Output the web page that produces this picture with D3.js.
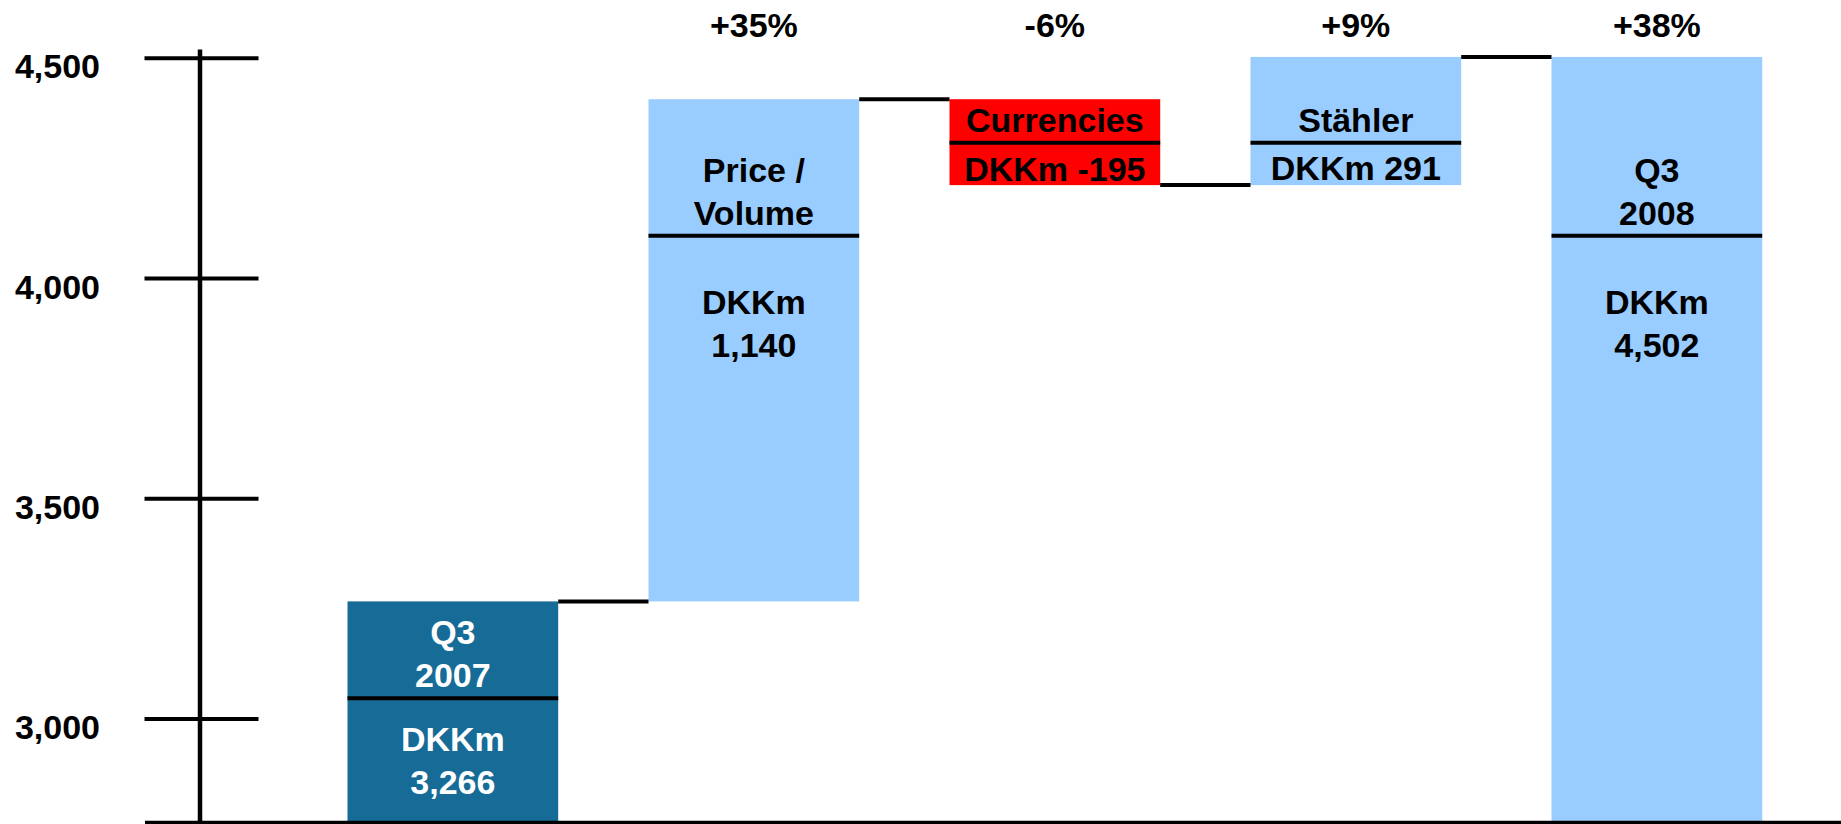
<!DOCTYPE html>
<html>
<head>
<meta charset="utf-8">
<script src="https://cdn.jsdelivr.net/npm/d3@7"></script>
<style>
  html, body { margin: 0; padding: 0; background: #ffffff; }
  svg { display: block; }
  text { font-family: "Liberation Sans", Arial, sans-serif; font-weight: bold; }
</style>
</head>
<body>
<svg id="chart" width="1841" height="824"></svg>
<script>
// ---- data ----
const categories = ["Q3 2007", "Price / Volume", "Currencies", "Stähler", "Q3 2008"];
const values = [3266, 1140, -195, 291, 4502];
const kinds = ["total", "delta", "delta", "delta", "total"];
const pctLabels = ["", "+35%", "-6%", "+9%", "+38%"];
const headLines = [["Q3", "2007"], ["Price /", "Volume"], ["Currencies"], ["Stähler"], ["Q3", "2008"]];
const valueLines = [["DKKm", "3,266"], ["DKKm", "1,140"], ["DKKm -195"], ["DKKm 291"], ["DKKm", "4,502"]];
const dividerLevels = [3046, 4096, 4307, 4307, 4096];
const tickValues = [3000, 3500, 4000, 4500];
const tickLabels = ["3,000", "3,500", "4,000", "4,500"];

// ---- styles ----
const barColors = ["#176b97", "#99ccff", "#ff0000", "#99ccff", "#99ccff"];
const textColors = ["#ffffff", "#000000", "#000000", "#000000", "#000000"];
const lowerGap = [53, 78, 38, 37, 78];
const lineH = 43;
const fontSize = 34;
const lineW = 4;

const svg = d3.select("#chart");
const W = 1841, H = 824;
const axisX = 199.5;

const x = d3.scaleBand()
  .domain(categories)
  .range([302.35, 1807.35])
  .paddingInner(0.3)
  .paddingOuter(0.15);

const y = d3.scaleLinear()
  .domain([2763.6, 4520])
  .range([822.7, 49]);

// compute waterfall extents
let running = 0;
const bars = categories.map((c, i) => {
  let lo, hi, level;
  if (kinds[i] === "total") {
    lo = y.domain()[0];
    hi = values[i];
    running = values[i];
    level = running;
  } else {
    const start = running;
    running = running + values[i];
    lo = Math.min(start, running);
    hi = Math.max(start, running);
    level = running;
  }
  return { c, i, lo, hi, level };
});

// bars
svg.append("g").selectAll("rect")
  .data(bars)
  .join("rect")
  .attr("x", d => x(d.c))
  .attr("width", x.bandwidth())
  .attr("y", d => y(d.hi))
  .attr("height", d => y(d.lo) - y(d.hi))
  .attr("fill", d => barColors[d.i]);

// connectors
svg.append("g").selectAll("line")
  .data(bars.slice(0, -1))
  .join("line")
  .attr("x1", d => x(d.c) + x.bandwidth())
  .attr("x2", d => x(categories[d.i + 1]))
  .attr("y1", d => y(d.level))
  .attr("y2", d => y(d.level))
  .attr("stroke", "#000")
  .attr("stroke-width", lineW);

// dividers inside bars
svg.append("g").selectAll("line")
  .data(bars)
  .join("line")
  .attr("x1", d => x(d.c))
  .attr("x2", d => x(d.c) + x.bandwidth())
  .attr("y1", d => y(dividerLevels[d.i]))
  .attr("y2", d => y(dividerLevels[d.i]))
  .attr("stroke", "#000")
  .attr("stroke-width", lineW);

// bar texts
const tg = svg.append("g").attr("text-anchor", "middle").attr("font-size", fontSize);
bars.forEach(d => {
  const cx = x(d.c) + x.bandwidth() / 2;
  const s = y(dividerLevels[d.i]);
  const up = headLines[d.i];
  up.forEach((t, k) => {
    tg.append("text")
      .attr("x", cx)
      .attr("y", s - 11 - (up.length - 1 - k) * lineH)
      .attr("fill", textColors[d.i])
      .text(t);
  });
  valueLines[d.i].forEach((t, k) => {
    tg.append("text")
      .attr("x", cx)
      .attr("y", s + lowerGap[d.i] + k * lineH)
      .attr("fill", textColors[d.i])
      .text(t);
  });
});

// percentage labels on top
svg.append("g").attr("text-anchor", "middle").attr("font-size", fontSize)
  .selectAll("text")
  .data(bars.filter(d => pctLabels[d.i] !== ""))
  .join("text")
  .attr("x", d => x(d.c) + x.bandwidth() / 2)
  .attr("y", 37)
  .attr("fill", "#000")
  .text(d => pctLabels[d.i]);

// y axis
const axis = d3.axisLeft(y)
  .tickValues(tickValues)
  .tickFormat((v, i) => tickLabels[i])
  .tickSizeOuter(0);

const ag = svg.append("g")
  .attr("transform", `translate(${axisX},0)`)
  .call(axis);
ag.select(".domain").attr("stroke", "#000").attr("stroke-width", 4.5);
ag.selectAll(".tick line")
  .attr("x1", -55)
  .attr("x2", 59)
  .attr("stroke", "#000")
  .attr("stroke-width", lineW);
ag.selectAll(".tick text")
  .attr("x", -99.5)
  .attr("dy", null)
  .attr("y", 20)
  .attr("fill", "#000")
  .attr("font-size", fontSize)
  .attr("font-family", "\"Liberation Sans\", Arial, sans-serif")
  .attr("font-weight", "bold");

// baseline
svg.append("line")
  .attr("x1", 145)
  .attr("x2", W)
  .attr("y1", y.range()[0])
  .attr("y2", y.range()[0])
  .attr("stroke", "#000")
  .attr("stroke-width", lineW);
</script>
</body>
</html>
